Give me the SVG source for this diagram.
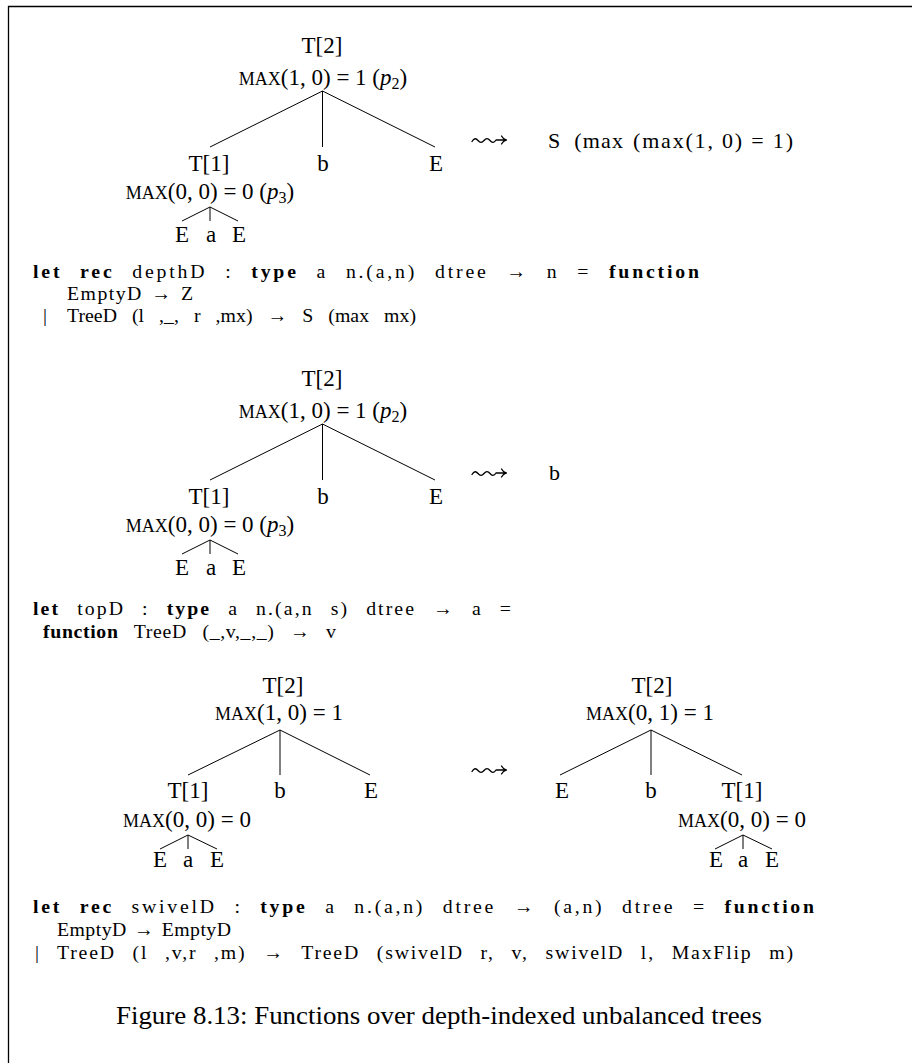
<svg xmlns="http://www.w3.org/2000/svg" width="912" height="1063" viewBox="0 0 912 1063">
<style>
.t{font-family:"Liberation Serif",serif;font-size:23px;fill:#000;text-anchor:middle}
.sc{font-size:18px}
.i{font-style:italic}
.sub{font-size:16px}
.code{font-family:"Liberation Serif",serif;font-size:19.8px;fill:#000;letter-spacing:1px;word-spacing:10px}
.tight{letter-spacing:0;word-spacing:2px}
.m{font-family:"Liberation Serif",serif;font-size:22px;fill:#000}
.b{font-weight:bold}
.cap{font-family:"Liberation Serif",serif;font-size:24.5px;fill:#000}
.e{stroke:#000;stroke-width:1;fill:none}
.arr{stroke:#000;stroke-width:1.3;fill:none;stroke-linecap:round;stroke-linejoin:round}
</style>
<defs>
<path id="leadsto" d="M0 1.5 C2 -2 4 -2 6 0.5 S10 3 12 0.5 S16 -2 18 0.5 S22 3 24 0 L34.5 0 M29.5 -4 Q31 -1 34.5 0 Q31 1 29.5 4"/>
</defs>
<path d="M8.5 1063 V6.5 H912" stroke="#000" stroke-width="1.3" fill="none"/>

<!-- Tree 1 -->
<g id="tree1-edges" class="e">
<path d="M322.5 91 L210 147 M322.5 91 V147 M322.5 91 L435 147"/>
<path d="M210 207 L182 221 M210 207 V221 M210 207 L238 221"/>
</g>
<g id="tree1-root"><text class="t" x="322" y="53">T[2]</text>
<text class="t" x="323" y="85"><tspan class="sc">MAX</tspan>(1, 0) = 1 (<tspan class="i">p</tspan><tspan class="sub" dy="4">2</tspan><tspan dy="-4">)</tspan></text></g>
<g id="tree1-t1"><text class="t" x="209" y="171">T[1]</text>
<text class="t" x="210" y="199"><tspan class="sc">MAX</tspan>(0, 0) = 0 (<tspan class="i">p</tspan><tspan class="sub" dy="4">3</tspan><tspan dy="-4">)</tspan></text></g>
<g id="tree1-b"><text class="t" x="323" y="171">b</text></g>
<g id="tree1-e"><text class="t" x="436" y="171">E</text></g>
<g id="tree1-leaves"><text class="t" x="182" y="242">E</text><text class="t" x="211" y="242">a</text><text class="t" x="239" y="242">E</text></g>
<g id="tree1-result"><use href="#leadsto" class="arr" x="472" y="140"/>
<text class="m" x="548" y="148" textLength="75" lengthAdjust="spacing" style="word-spacing:6px">S (max</text>
<text class="m" x="633" y="148" textLength="160" lengthAdjust="spacing">(max(1, 0) = 1)</text></g>

<g id="code1">
<text class="code" x="33" y="278" textLength="667" lengthAdjust="spacing"><tspan class="b">let rec</tspan> depthD : <tspan class="b">type</tspan> a n.(a,n) dtree → n = <tspan class="b">function</tspan></text>
<text class="code tight" x="67" y="300" textLength="126" lengthAdjust="spacing">EmptyD → Z</text>
<text class="code" x="43" y="322">|</text>
<text class="code" x="67" y="322" textLength="350" lengthAdjust="spacing">TreeD (l ,_, r ,mx) → S (max mx)</text>
</g>

<!-- Tree 2 -->
<g id="tree2-edges" class="e">
<path d="M322.5 424 L210 480 M322.5 424 V480 M322.5 424 L435 480"/>
<path d="M210 540 L182 554 M210 540 V554 M210 540 L238 554"/>
</g>
<g id="tree2-root"><text class="t" x="322" y="386">T[2]</text>
<text class="t" x="323" y="418"><tspan class="sc">MAX</tspan>(1, 0) = 1 (<tspan class="i">p</tspan><tspan class="sub" dy="4">2</tspan><tspan dy="-4">)</tspan></text></g>
<g id="tree2-t1"><text class="t" x="209" y="504">T[1]</text>
<text class="t" x="210" y="532"><tspan class="sc">MAX</tspan>(0, 0) = 0 (<tspan class="i">p</tspan><tspan class="sub" dy="4">3</tspan><tspan dy="-4">)</tspan></text></g>
<g id="tree2-b"><text class="t" x="323" y="504">b</text></g>
<g id="tree2-e"><text class="t" x="436" y="504">E</text></g>
<g id="tree2-leaves"><text class="t" x="182" y="575">E</text><text class="t" x="211" y="575">a</text><text class="t" x="239" y="575">E</text></g>
<g id="tree2-result"><use href="#leadsto" class="arr" x="472" y="473"/>
<text class="m" x="549" y="480">b</text></g>

<g id="code2">
<text class="code" x="33" y="615" textLength="479" lengthAdjust="spacing"><tspan class="b">let</tspan> topD : <tspan class="b">type</tspan> a n.(a,n s) dtree → a =</text>
<text class="code" x="43" y="638" textLength="294" lengthAdjust="spacing"><tspan class="b">function</tspan> TreeD (_,v,_,_) → v</text>
</g>

<!-- Tree 3 left -->
<g id="tree3-edges" class="e">
<path d="M280 730 L188 775 M280 730 V775 M280 730 L370 775"/>
<path d="M188 835 L160 849 M188 835 V849 M188 835 L217 849"/>
</g>
<g id="tree3-root"><text class="t" x="283" y="693">T[2]</text>
<text class="t" x="279" y="720"><tspan class="sc">MAX</tspan>(1, 0) = 1</text></g>
<g id="tree3-t1"><text class="t" x="188" y="798">T[1]</text>
<text class="t" x="187" y="827"><tspan class="sc">MAX</tspan>(0, 0) = 0</text></g>
<g id="tree3-b"><text class="t" x="280" y="798">b</text></g>
<g id="tree3-e"><text class="t" x="371" y="798">E</text></g>
<g id="tree3-leaves"><text class="t" x="160" y="867">E</text><text class="t" x="188" y="867">a</text><text class="t" x="217" y="867">E</text></g>

<g id="arrow3"><use href="#leadsto" class="arr" x="472" y="770"/></g>

<!-- Tree 3 right -->
<g id="tree4-edges" class="e">
<path d="M651 730 L560 775 M651 730 V775 M651 730 L742 775"/>
<path d="M743 835 L715 849 M743 835 V849 M743 835 L772 849"/>
</g>
<g id="tree4-root"><text class="t" x="652" y="693">T[2]</text>
<text class="t" x="650" y="720"><tspan class="sc">MAX</tspan>(0, 1) = 1</text></g>
<g id="tree4-e"><text class="t" x="562" y="798">E</text></g>
<g id="tree4-b"><text class="t" x="651" y="798">b</text></g>
<g id="tree4-t1"><text class="t" x="742" y="798">T[1]</text>
<text class="t" x="742" y="827"><tspan class="sc">MAX</tspan>(0, 0) = 0</text></g>
<g id="tree4-leaves"><text class="t" x="716" y="867">E</text><text class="t" x="743" y="867">a</text><text class="t" x="772" y="867">E</text></g>

<g id="code3">
<text class="code" x="33" y="913" textLength="782" lengthAdjust="spacing"><tspan class="b">let rec</tspan> swivelD : <tspan class="b">type</tspan> a n.(a,n) dtree → (a,n) dtree = <tspan class="b">function</tspan></text>
<text class="code tight" x="57" y="936" textLength="174" lengthAdjust="spacing">EmptyD → EmptyD</text>
<text class="code" x="35" y="959">|</text>
<text class="code" x="57" y="959" textLength="737" lengthAdjust="spacing">TreeD (l ,v,r ,m) → TreeD (swivelD r, v, swivelD l, MaxFlip m)</text>
</g>

<text class="cap" x="116" y="1024" textLength="646" lengthAdjust="spacingAndGlyphs">Figure 8.13: Functions over depth-indexed unbalanced trees</text>
</svg>
